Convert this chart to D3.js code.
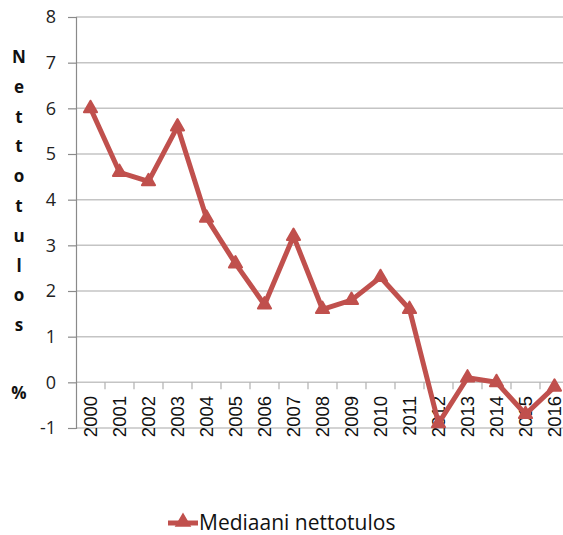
<!DOCTYPE html>
<html><head><meta charset="utf-8">
<script src="https://cdn.jsdelivr.net/npm/d3@7"></script>
<style>body{margin:0;background:#fff}svg{display:block}</style>
</head><body>
<svg id="c" width="563" height="535"></svg>
<script>
const years = ["2000","2001","2002","2003","2004","2005","2006","2007","2008","2009","2010","2011","2012","2013","2014","2015","2016"];
const values = [6.0,4.6,4.4,5.6,3.6,2.6,1.7,3.2,1.6,1.8,2.3,1.6,-0.9,0.1,0.0,-0.7,-0.1];
const yTicks = [-1,0,1,2,3,4,5,6,7,8];
const seriesName = "Mediaani nettotulos";
const titleLetters = ["N","e","t","t","o","t","u","l","o","s"];
const titleUnit = "%";

const svg = d3.select("#c");
const pL = 76, pR = 569, pT = 17, pB = 428;
const color = "#C0504D";
const x = d3.scaleBand().domain(years).range([pL, pR]).padding(0);
const y = d3.scaleLinear().domain([-1, 8]).range([pB, pT]);

// gridlines
svg.append("g").selectAll("line").data(yTicks).join("line")
  .attr("x1", pL).attr("x2", pR)
  .attr("y1", d => y(d)).attr("y2", d => y(d))
  .attr("stroke", "#c4c4c4").attr("stroke-width", 1.5);

// y axis
const ya = svg.append("g").attr("transform", `translate(${pL},0)`)
  .call(d3.axisLeft(y).tickValues(yTicks).tickSize(8).tickPadding(12).tickFormat(d => String(d)));
ya.select(".domain").attr("stroke", "#8a8a8a").attr("stroke-width", 1.2);
ya.selectAll(".tick line").attr("stroke", "#8a8a8a").attr("stroke-width", 1.2);
ya.selectAll("text").attr("font-family", "Open Sans, sans-serif").attr("font-size", 18).attr("fill", "#222");

// x axis ticks at zero
const bounds = years.slice(1).map(yr => x(yr));
svg.append("g").selectAll("line").data(bounds).join("line")
  .attr("x1", d => d).attr("x2", d => d)
  .attr("y1", y(0)).attr("y2", y(0) + 7)
  .attr("stroke", "#b0b0b0").attr("stroke-width", 1.2);

svg.append("g").selectAll("text").data(years).join("text")
  .attr("transform", d => `translate(${x(d) + x.bandwidth()/2 + 6.5},396) rotate(-90)`)
  .attr("text-anchor", "end")
  .attr("font-family", "Liberation Sans, Arial, sans-serif")
  .attr("font-size", 18.5).attr("fill", "#111")
  .text(d => d);

// line
const line = d3.line().x((d, i) => x(years[i]) + x.bandwidth()/2).y(d => y(d));
svg.append("path").datum(values).attr("d", line)
  .attr("fill", "none").attr("stroke", color).attr("stroke-width", 5).attr("stroke-linejoin", "round");
const tri = d3.symbol().type(d3.symbolTriangle).size(75);
svg.append("g").selectAll("path").data(values).join("path")
  .attr("transform", (d, i) => `translate(${x(years[i]) + x.bandwidth()/2},${y(d)})`)
  .attr("d", tri).attr("fill", color).attr("stroke", color).attr("stroke-width", 2).attr("stroke-linejoin", "round");

// y title (stacked letters)
const tg = svg.append("g").attr("font-family", "Open Sans, sans-serif").attr("font-weight", "bold")
  .attr("font-size", 17).attr("fill", "#111").attr("text-anchor", "middle");
tg.selectAll("text.l").data(titleLetters).join("text").attr("class", "l")
  .attr("x", 19).attr("y", (d, i) => 63 + i * 29.8).text(d => d);
tg.append("text").attr("x", 19).attr("y", 399).text(titleUnit);

// legend
const lg = svg.append("g");
lg.append("line").attr("x1", 168).attr("x2", 198).attr("y1", 523).attr("y2", 523)
  .attr("stroke", color).attr("stroke-width", 5);
lg.append("path").attr("transform", "translate(183,522)").attr("d", tri)
  .attr("fill", color).attr("stroke", color).attr("stroke-width", 2);
lg.append("text").attr("x", 199).attr("y", 530)
  .attr("font-family", "Open Sans, sans-serif").attr("font-size", 21).attr("fill", "#111")
  .text(seriesName);
</script>
</body></html>
